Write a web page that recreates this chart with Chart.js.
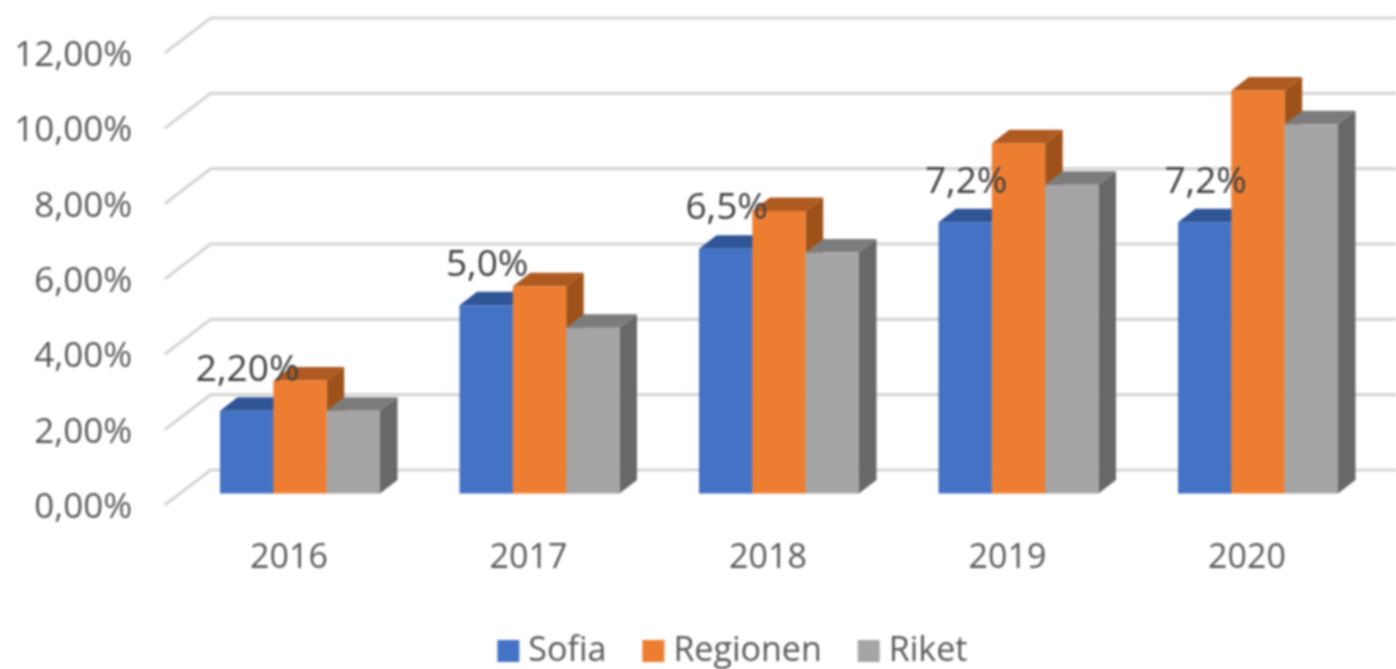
<!DOCTYPE html>
<html>
<head>
<meta charset="utf-8">
<script src="https://cdn.jsdelivr.net/npm/chart.js@4"></script>
<style>
html,body{margin:0;padding:0;background:#fff;overflow:hidden}
canvas{display:block;filter:blur(0.8px)}
</style>
</head>
<body>
<canvas id="c" width="1396" height="669"></canvas>
<script>
const categories = ['2016', '2017', '2018', '2019', '2020'];
const sofia = [2.2, 5.0, 6.5, 7.2, 7.2];
const regionen = [3.0, 5.5, 7.5, 9.3, 10.7];
const riket = [2.2, 4.4, 6.4, 8.2, 9.8];
const sofiaLabels = ['2,20%', '5,0%', '6,5%', '7,2%', '7,2%'];

const FONT = '"Open Sans", sans-serif';
const depth = { x: 17.5, y: -13.5 };
const shades = [
  { top: '#2F5597', side: '#2A4D88' },
  { top: '#AE5A21', side: '#9E5219' },
  { top: '#7C7C7C', side: '#686868' }
];

function poly(ctx, pts, color) {
  ctx.fillStyle = color;
  ctx.beginPath();
  pts.forEach((p, i) => i ? ctx.lineTo(p[0], p[1]) : ctx.moveTo(p[0], p[1]));
  ctx.closePath();
  ctx.fill();
}

const scene3d = {
  id: 'scene3d',
  afterLayout(chart) { chart.legend.left = 95; },
  beforeDatasetsDraw(chart) {
    const { ctx, chartArea: a, scales: { y } } = chart;
    ctx.save();
    ctx.strokeStyle = '#D6D6D6';
    ctx.lineWidth = 3.2;
    ctx.lineJoin = 'miter';
    y.ticks.forEach(t => {
      const p = y.getPixelForValue(t.value);
      ctx.beginPath();
      ctx.moveTo(a.left - 15.5, p + 11.5);
      ctx.lineTo(a.left + 30.5, p - 23.5);
      ctx.lineTo(chart.width, p - 23.5);
      ctx.stroke();
    });
    ctx.restore();
  },
  beforeDatasetDraw() { return false; },
  afterDatasetsDraw(chart) {
    const { ctx } = chart;
    chart.data.datasets.forEach((ds, i) => {
      const meta = chart.getDatasetMeta(i);
      meta.data.forEach(bar => {
        const l = bar.x - bar.width / 2, r = bar.x + bar.width / 2;
        const t = bar.y, b = bar.base;
        ctx.save();
        poly(ctx, [[r, t], [r + depth.x, t + depth.y], [r + depth.x, b + depth.y], [r, b]], shades[i].side);
        poly(ctx, [[l, t], [l + depth.x, t + depth.y], [r + depth.x, t + depth.y], [r, t]], shades[i].top);
        ctx.restore();
        bar.draw(ctx);
      });
    });
    const first = chart.getDatasetMeta(0);
    ctx.save();
    ctx.font = '37px ' + FONT;
    ctx.fillStyle = '#404040';
    ctx.textAlign = 'center';
    ctx.textBaseline = 'middle';
    first.data.forEach((bar, i) => {
      ctx.fillText(sofiaLabels[i], bar.x + 1, bar.y - 40);
    });
    ctx.restore();
  }
};

function noPad(s) { s.paddingTop = 0; s.paddingBottom = 0; s.paddingLeft = 0; s.paddingRight = 0; }

new Chart(document.getElementById('c'), {
  type: 'bar',
  data: {
    labels: categories,
    datasets: [
      { label: 'Sofia', data: sofia, backgroundColor: '#4472C4', borderWidth: 0 },
      { label: 'Regionen', data: regionen, backgroundColor: '#ED7D31', borderWidth: 0 },
      { label: 'Riket', data: riket, backgroundColor: '#A5A5A5', borderWidth: 0 }
    ]
  },
  options: {
    responsive: false,
    animation: false,
    devicePixelRatio: 1,
    layout: { padding: { left: 0, right: 18.25, top: 41.5, bottom: 0 } },
    datasets: { bar: { categoryPercentage: 0.668, barPercentage: 1 } },
    scales: {
      x: {
        grid: { display: false },
        border: { display: false },
        afterFit(s) { s.height = 96.5; noPad(s); },
        ticks: {
          font: { family: FONT, size: 34 },
          color: '#595959',
          padding: 36,
          labelOffset: -11,
          maxRotation: 0
        }
      },
      y: {
        min: 0,
        max: 12,
        grid: { display: false },
        border: { display: false },
        afterFit(s) { s.width = 180.25; noPad(s); },
        ticks: {
          stepSize: 2,
          font: { family: FONT, size: 35 },
          color: '#595959',
          padding: 40,
          labelOffset: 14.5,
          callback: v => v.toFixed(2).replace('.', ',') + '%'
        }
      }
    },
    plugins: {
      tooltip: { enabled: false },
      title: { display: false },
      legend: {
        position: 'bottom',
        maxHeight: 79,
        labels: {
          font: { family: FONT, size: 34 },
          color: '#595959',
          boxWidth: 6,
          boxHeight: 6,
          padding: 44,
          generateLabels(chart) {
            return Chart.defaults.plugins.legend.labels.generateLabels(chart).map(it => ({
              ...it, lineWidth: 16, strokeStyle: it.fillStyle
            }));
          }
        }
      }
    }
  },
  plugins: [scene3d]
});
</script>
</body>
</html>
